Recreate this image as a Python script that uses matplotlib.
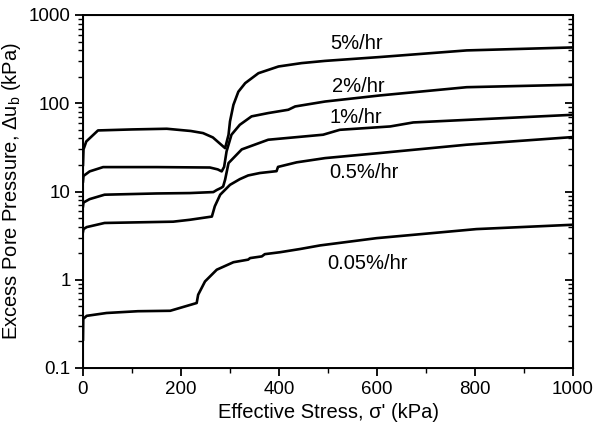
import matplotlib
matplotlib.use("Agg")
import matplotlib.pyplot as plt
from matplotlib.ticker import FixedLocator, LogLocator, FuncFormatter, MultipleLocator, NullFormatter

plt.rcParams['font.family'] = ['Liberation Sans', 'DejaVu Sans']
plt.rcParams['mathtext.fontset'] = 'custom'
plt.rcParams['mathtext.rm'] = 'Liberation Sans'

# curves (effective stress kPa, excess pore pressure kPa)
x_5 = [0, 1, 6.7, 30.6, 100, 171, 220, 245, 265, 290, 297, 300, 307, 317, 331, 358, 399, 446, 494, 606, 783, 1000]
y_5 = [20, 30, 36.9, 49.2, 50.5, 51.4, 48.5, 45.9, 41, 31, 43.9, 62.3, 96, 135, 169, 219, 261, 285, 302, 334, 397, 429]

x_2 = [0, 1, 13.6, 41, 150, 259, 275, 283, 288, 293, 303, 320, 344, 378, 419, 433, 494, 606, 783, 1000]
y_2 = [13, 15, 16.9, 18.9, 18.9, 18.7, 17.8, 16.9, 19, 28.5, 44, 57, 71, 77.4, 84.4, 92, 104.6, 122.6, 152, 162]

x_1 = [0, 1, 13.6, 44, 150, 218, 266, 273, 282, 286, 290, 297, 324, 378, 490, 524, 627, 674, 1000]
y_1 = [6.8, 7.5, 8.2, 9.2, 9.5, 9.6, 9.85, 10.4, 11, 11.4, 13.6, 21, 30, 38.6, 44, 50, 54.6, 60.6, 74]

x_05 = [0, 1, 7.5, 44, 184, 218, 263, 269, 280, 300, 320, 337, 361, 395, 398, 436, 494, 606, 783, 1000]
y_05 = [3.5, 3.75, 3.95, 4.4, 4.55, 4.78, 5.2, 6.8, 9.2, 11.9, 13.8, 15.2, 16.2, 17.0, 19, 21.4, 23.9, 27.3, 33.9, 41.4]

x_005 = [0, 0.5, 7.5, 48, 112, 178, 232, 235, 249, 273, 307, 337, 341, 365, 371, 402, 443, 484, 599, 803, 1000]
y_005 = [0.21, 0.36, 0.39, 0.42, 0.44, 0.445, 0.545, 0.676, 0.957, 1.3, 1.58, 1.69, 1.76, 1.84, 1.95, 2.05, 2.23, 2.45, 2.96, 3.75, 4.2]

labels = ["5%/hr", "2%/hr", "1%/hr", "0.5%/hr", "0.05%/hr"]
label_x = [559, 561, 557, 573, 580]
label_y = [472, 154, 68.5, 16.3, 1.52]

fig = plt.figure(figsize=(5.94, 4.38), dpi=100)
ax = fig.add_axes([83 / 594, 1 - 368 / 438, 490 / 594, 353 / 438])

for xs, ys in [(x_5, y_5), (x_2, y_2), (x_1, y_1), (x_05, y_05), (x_005, y_005)]:
    ax.plot(xs, ys, color='black', lw=1.9, solid_joinstyle='round')

for t, tx, ty in zip(labels, label_x, label_y):
    ax.text(tx, ty, t, fontsize=14.5, ha='center', va='center')

ax.set_yscale('log')
ax.set_xlim(0, 1000)
ax.set_ylim(0.1, 1000)
ax.xaxis.set_major_locator(MultipleLocator(200))
ax.xaxis.set_minor_locator(MultipleLocator(100))
ax.yaxis.set_major_locator(FixedLocator([0.1, 1, 10, 100, 1000]))
ax.yaxis.set_minor_locator(LogLocator(base=10, subs=range(2, 10)))
ax.yaxis.set_major_formatter(FuncFormatter(lambda v, p: '%g' % v))
ax.yaxis.set_minor_formatter(NullFormatter())

ax.tick_params(axis='both', which='major', labelsize=13.5, width=1.3, length=5.5, direction='out')
ax.tick_params(axis='both', which='minor', width=1.0, length=3.5, direction='out')
for sp in ax.spines.values():
    sp.set_linewidth(1.4)

# right side ticks point inward, no labels
ax2 = ax.twinx()
ax2.set_yscale('log')
ax2.set_ylim(0.1, 1000)
ax2.yaxis.set_major_locator(FixedLocator([0.1, 1, 10, 100, 1000]))
ax2.yaxis.set_minor_locator(LogLocator(base=10, subs=range(2, 10)))
ax2.yaxis.set_major_formatter(NullFormatter())
ax2.yaxis.set_minor_formatter(NullFormatter())
ax2.tick_params(axis='y', which='major', width=1.3, length=5.5, direction='in')
ax2.tick_params(axis='y', which='minor', width=1.0, length=3.5, direction='in')

ax.set_xlabel("Effective Stress, σ' (kPa)", fontsize=14.5)
ax.set_ylabel(r"Excess Pore Pressure, Δu$_\mathregular{b}$ (kPa)", fontsize=14.5)

fig.savefig("out.png", dpi=100)
